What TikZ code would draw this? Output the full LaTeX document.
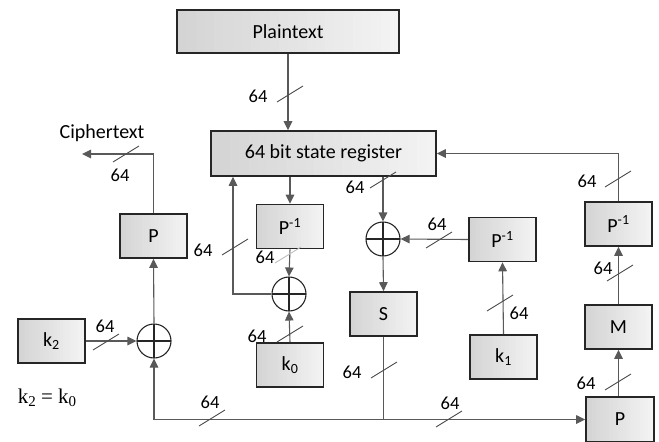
\documentclass[tikz,border=0pt]{standalone}
\usepackage{fontspec}
\setmainfont{Carlito}
\newfontfamily\eqfont{Liberation Serif}
\usetikzlibrary{arrows.meta,calc}

\definecolor{boxL}{RGB}{212,212,212}
\definecolor{boxR}{RGB}{243,243,243}

\tikzset{
  % block with a left-to-right grey gradient built from thin strips
  blk/.style={draw=black!85, line width=1.6pt, inner sep=0pt,
    path picture={
      \path (path picture bounding box.south west) coordinate (gsw)
            (path picture bounding box.north east) coordinate (gne);
      \foreach \i in {0,...,23}{
        \pgfmathsetmacro\pct{100-100*\i/23}
        \path ($(gsw)!{\i/24}!(gsw -| gne)$) coordinate (ga)
              ($(gsw)!{(\i+1.2)/24}!(gsw -| gne)$) coordinate (gb);
        \fill[boxL!\pct!boxR] (ga) rectangle (gb |- gne);
      }},
    minimum width=67pt, minimum height=44pt,
    font=\fontsize{20}{22}\selectfont},
  xor/.style={circle, draw=black!85, line width=1.1pt, minimum size=34pt, inner sep=0pt,
    path picture={\draw[line width=1.1pt, black!85]
      (path picture bounding box.north) -- (path picture bounding box.south)
      (path picture bounding box.west) -- (path picture bounding box.east);}},
  wire/.style={draw=black!65, line width=1.1pt},
  arr/.style={wire, -{Triangle[length=9pt,width=8.5pt]}},
  buslbl/.style={font=\fontsize{18.5}{20}\selectfont, inner sep=0pt},
  busslash/.pic={\draw[black!70, line width=0.9pt] (-13,8) -- (13,-8);},
  faintslash/.pic={\draw[black!25, line width=0.9pt] (-13,8) -- (13,-8);}
}

\begin{document}
\begin{tikzpicture}[x=1pt, y=-1pt]
\useasboundingbox (0,0) rectangle (659,442);

% blocks
\node[blk, minimum width=222pt, minimum height=43pt] (plain) at (288,31.5) {Plaintext};
\node[blk, minimum width=225pt, minimum height=45pt] (reg) at (323.5,153.5) {64 bit state register};
\node[blk] (pout)  at (153.5,236) {P};
\node[blk] (pinvA) at (290,226.5) {P\textsuperscript{-1}};
\node[blk] (kzero) at (290,365) {k\textsubscript{0}};
\node[blk] (sbox)  at (383.5,314) {S};
\node[blk] (pinvB) at (502.5,239.5) {P\textsuperscript{-1}};
\node[blk] (kone)  at (503.5,357) {k\textsubscript{1}};
\node[blk] (pinvC) at (618.5,224) {P\textsuperscript{-1}};
\node[blk] (mix)   at (618.5,327) {M};
\node[blk, minimum width=68pt, minimum height=45pt] (pR) at (620,419.5) {P};
\node[blk] (ktwo)  at (51.5,341) {k\textsubscript{2}};

% xor gates
\node[xor] (xorL) at (154,341) {};
\node[xor] (xorM) at (289,294) {};
\node[xor] (xorR) at (383,239) {};

% helper coordinates
\coordinate (fb) at (233,0);
\coordinate (ct) at (82,154);

% texts
\node[font=\fontsize{20}{22}\selectfont, inner sep=0pt] (ctext) at (102,133) {Ciphertext};
\node[font=\eqfont\fontsize{21}{24}\selectfont, inner sep=0pt] (eq) at (47,398)
  {k\raisebox{-0.35ex}{\fontsize{15}{16}\selectfont 2} = k\raisebox{-0.35ex}{\fontsize{15}{16}\selectfont 0}};

% connectors
\draw[arr] (plain.south) -- (plain.south |- reg.north);
\draw[arr] (pinvA.north |- reg.south) -- (pinvA.north);
\draw[arr] (pinvA.south) -- (xorM.north);
\draw[arr] (kzero.north) -- (xorM.south);
\draw[arr] (xorM.west) -| (fb |- reg.south);
\draw[arr] (xorR.north |- reg.south) -- (xorR.north);
\draw[arr] (pinvB.west) -- (xorR.east);
\draw[arr] (kone.north) -- (pinvB.south);
\draw[arr] (xorR.south) -- (sbox.north);
\draw[arr] (sbox.south) |- (pR.west);
\draw[arr] (sbox.south |- pR.west) -| (xorL.south);
\draw[arr] (xorL.north) -- (pout.south);
\draw[arr] (ktwo.east) -- (xorL.west);
\draw[arr] (pout.north) |- (ct);
\draw[arr] (mix.south |- pR.north) -- (mix.south);
\draw[arr] (mix.north) -- (pinvC.south);
\draw[arr] (pinvC.north) |- (reg.east);

% bus width marks
\pic at (290,94) {busslash};   \node[buslbl] (l1) at (258,96) {64};
\pic at (126,154) {busslash};  \node[buslbl] (l2) at (120,175) {64};
\pic at (235,247) {busslash};  \node[buslbl] (l3) at (203,250) {64};
\pic at (288,255) {faintslash};\node[buslbl] (l4) at (265,257) {64};
\pic at (290,334) {busslash};  \node[buslbl] (l5) at (257,336) {64};
\pic at (383,180) {busslash};  \node[buslbl] (l6) at (355,187) {64};
\pic at (439,240) {busslash};  \node[buslbl] (l7) at (437,224) {64};
\pic at (500,303) {busslash};  \node[buslbl] (l8) at (519,313) {64};
\pic at (384,370) {busslash};  \node[buslbl] (l9) at (352,372) {64};
\pic at (212,418) {busslash};  \node[buslbl] (l10) at (210,402) {64};
\pic at (449,419) {busslash};  \node[buslbl] (l11) at (450,403) {64};
\pic at (106,342) {busslash};  \node[buslbl] (l12) at (105,326) {64};
\pic at (618,382) {busslash};  \node[buslbl] (l13) at (586,383) {64};
\pic at (620,273) {busslash};  \node[buslbl] (l14) at (603,268) {64};
\pic at (618,179) {busslash};  \node[buslbl] (l15) at (587,181) {64};
\end{tikzpicture}
\end{document}
